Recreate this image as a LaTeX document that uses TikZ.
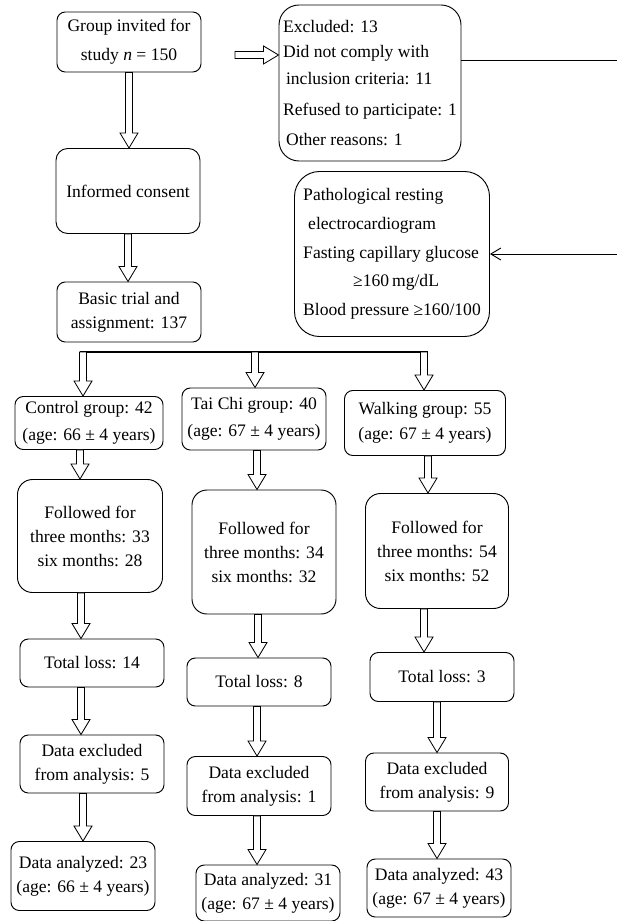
\documentclass[tikz,border=0pt]{standalone}
\usepackage{fontspec}
\setmainfont{Liberation Serif}
\newfontfamily\flowfont{Liberation Serif}
\usetikzlibrary{arrows.meta,positioning,calc}

\begin{document}
\begin{tikzpicture}[hollow/.style={draw, line width=0.7pt, fill=white, to path={
	let \p1=($(\tikztotarget)-(\tikztostart)$), \n1={veclen(\x1,\y1)}, \n2={atan2(\y1,\x1)} in
	(\tikztostart) ++(\n2+90:0.105cm) -- ++(\n2:\n1-0.45cm) -- ++(\n2+90:0.165cm) -- (\tikztotarget)
	-- ($(\tikztotarget)+(\n2+180:0.45cm)+(\n2-90:0.27cm)$) -- ++(\n2+90:0.165cm)
	-- ($(\tikztostart)+(\n2-90:0.105cm)$) -- cycle}}]
\useasboundingbox (0,0) rectangle (18.51,-27.63);

\begin{scope}[every node/.style={rectangle,draw,line width=0.8pt,rounded corners=0.25cm,align=center,inner sep=2pt,minimum width=4.32cm,font=\flowfont\fontsize{15}{20.5}\selectfont}]
	\node[minimum height=1.8cm] (invite) at (3.87,-1.26) {Group invited for\\[4pt]
	study \textit{n} = 150};
	\node[minimum width=5.46cm,minimum height=4.68cm,rounded corners=0.6cm,align=left] (excluded) at (11.1,-2.49) {Excluded: 13\\[1pt]
	Did not comply with\\[3pt]
	\,inclusion criteria: 11\\[6pt]
	Refused to participate: 1\\[5pt]
	\,Other reasons: 1};
	\node[minimum height=2.55cm,rounded corners=0.35cm] (consent) at (3.84,-5.73) {Informed consent};
	\node[minimum width=5.85cm,minimum height=4.95cm,rounded corners=0.75cm,align=left] (patho) at (11.76,-7.62) {Pathological resting\\[4pt]
	\hspace*{0.15cm}electrocardiogram\\[4pt]
	Fasting capillary glucose\\[4pt]
	\hspace*{1.5cm}≥160\,mg/dL\\[4pt]
	Blood pressure ≥160/100};
	\node[minimum height=1.8cm] (basic) at (3.87,-9.36) {Basic trial and\\
	assignment: 137};

	\node[minimum width=4.44cm,minimum height=1.59cm] (ctl) at (2.67,-12.69) {Control group: 42\\[3pt]
	(age: 66 ± 4 years)};
	\node[minimum height=1.86cm] (tai) at (7.62,-12.57) {Tai Chi group: 40\\[3pt]
	(age: 67 ± 4 years)};
	\node[minimum width=4.83cm,minimum height=1.95cm] (walk) at (12.75,-12.69) {Walking group: 55\\[1pt]
	(age: 67 ± 4 years)};

	\node[minimum width=4.35cm,minimum height=3.39cm,rounded corners=0.45cm] (ctlF) at (2.7,-16.08) {Followed for\\
	three months: 33\\
	six months: 28};
	\node[minimum height=3.72cm,rounded corners=0.45cm] (taiF) at (7.92,-16.56) {Followed for\\
	three months: 34\\
	six months: 32};
	\node[minimum width=4.29cm,minimum height=3.45cm,rounded corners=0.45cm] (walkF) at (13.11,-16.53) {Followed for\\
	three months: 54\\
	six months: 52};

	\node[minimum height=1.44cm] (ctlL) at (2.76,-19.89) {Total loss: 14};
	\node[minimum height=1.44cm] (taiL) at (7.77,-20.46) {Total loss: 8};
	\node[minimum height=1.47cm] (walkL) at (13.26,-20.31) {Total loss: 3};

	\node[minimum height=1.74cm] (ctlX) at (2.76,-22.92) {Data excluded\\
	from analysis: 5};
	\node[minimum height=1.77cm] (taiX) at (7.77,-23.58) {Data excluded\\
	from analysis: 1};
	\node[minimum width=4.29cm,minimum height=1.74cm] (walkX) at (13.11,-23.46) {Data excluded\\
	from analysis: 9};

	\node[minimum height=2.07cm] (ctlA) at (2.49,-26.28) {Data analyzed: 23\\
	(age: 66 ± 4 years)};
	\node[minimum height=1.68cm] (taiA) at (8.04,-26.79) {Data analyzed: 31\\
	(age: 67 ± 4 years)};
	\node[minimum height=1.74cm] (walkA) at (13.17,-26.64) {Data analyzed: 43\\
	(age: 67 ± 4 years)};
\end{scope}

\coordinate (gap) at (7.05,-1.65);
\coordinate (barL) at (2.49,-10.56);
\coordinate (barM) at (7.65,-10.56);
\coordinate (barR) at (12.72,-10.56);

\begin{scope}
	\draw[hollow] (gap) to (gap -| excluded.west);
	\draw[line width=0.8pt,-{Straight Barb[length=0.3cm,width=0.36cm]}] ([yshift=0.69cm]excluded.east) -- ++(4.9cm,0) |- (patho.east);
	\draw[hollow] (invite.south) to (invite.south |- consent.north);
	\draw[hollow] (consent.south) to (consent.south |- basic.north);

	\draw[line width=0.9pt] ([xshift=-0.105cm]barL) -- ([xshift=0.105cm]barR);
	\draw[hollow] (barL) to (barL |- ctl.north);
	\draw[hollow] (barM) to (barM |- tai.north);
	\draw[hollow] (barR) to (barR |- walk.north);

	\draw[hollow] ([xshift=-0.27cm]ctl.south) to ([xshift=-0.27cm]ctl.south |- ctlF.north);
	\draw[hollow] ([xshift=0.09cm]tai.south) to ([xshift=0.09cm]tai.south |- taiF.north);
	\draw[hollow] ([xshift=0.09cm]walk.south) to ([xshift=0.09cm]walk.south |- walkF.north);

	\draw[hollow] ([xshift=-0.27cm]ctlF.south) to ([xshift=-0.27cm]ctlF.south |- ctlL.north);
	\draw[hollow] ([xshift=-0.18cm]taiF.south) to ([xshift=-0.18cm]taiF.south |- taiL.north);
	\draw[hollow] ([xshift=-0.39cm]walkF.south) to ([xshift=-0.39cm]walkF.south |- walkL.north);

	\draw[hollow] ([xshift=-0.33cm]ctlL.south) to ([xshift=-0.33cm]ctlL.south |- ctlX.north);
	\draw[hollow] ([xshift=-0.06cm]taiL.south) to ([xshift=-0.06cm]taiL.south |- taiX.north);
	\draw[hollow] ([xshift=-0.15cm]walkL.south) to ([xshift=-0.15cm]walkL.south |- walkX.north);

	\draw[hollow] ([xshift=-0.27cm]ctlX.south) to ([xshift=-0.27cm]ctlX.south |- ctlA.north);
	\draw[hollow] ([xshift=-0.06cm]taiX.south) to ([xshift=-0.06cm]taiX.south |- taiA.north);
	\draw[hollow] (walkX.south) to (walkX.south |- walkA.north);
\end{scope}

\end{tikzpicture}
\end{document}
